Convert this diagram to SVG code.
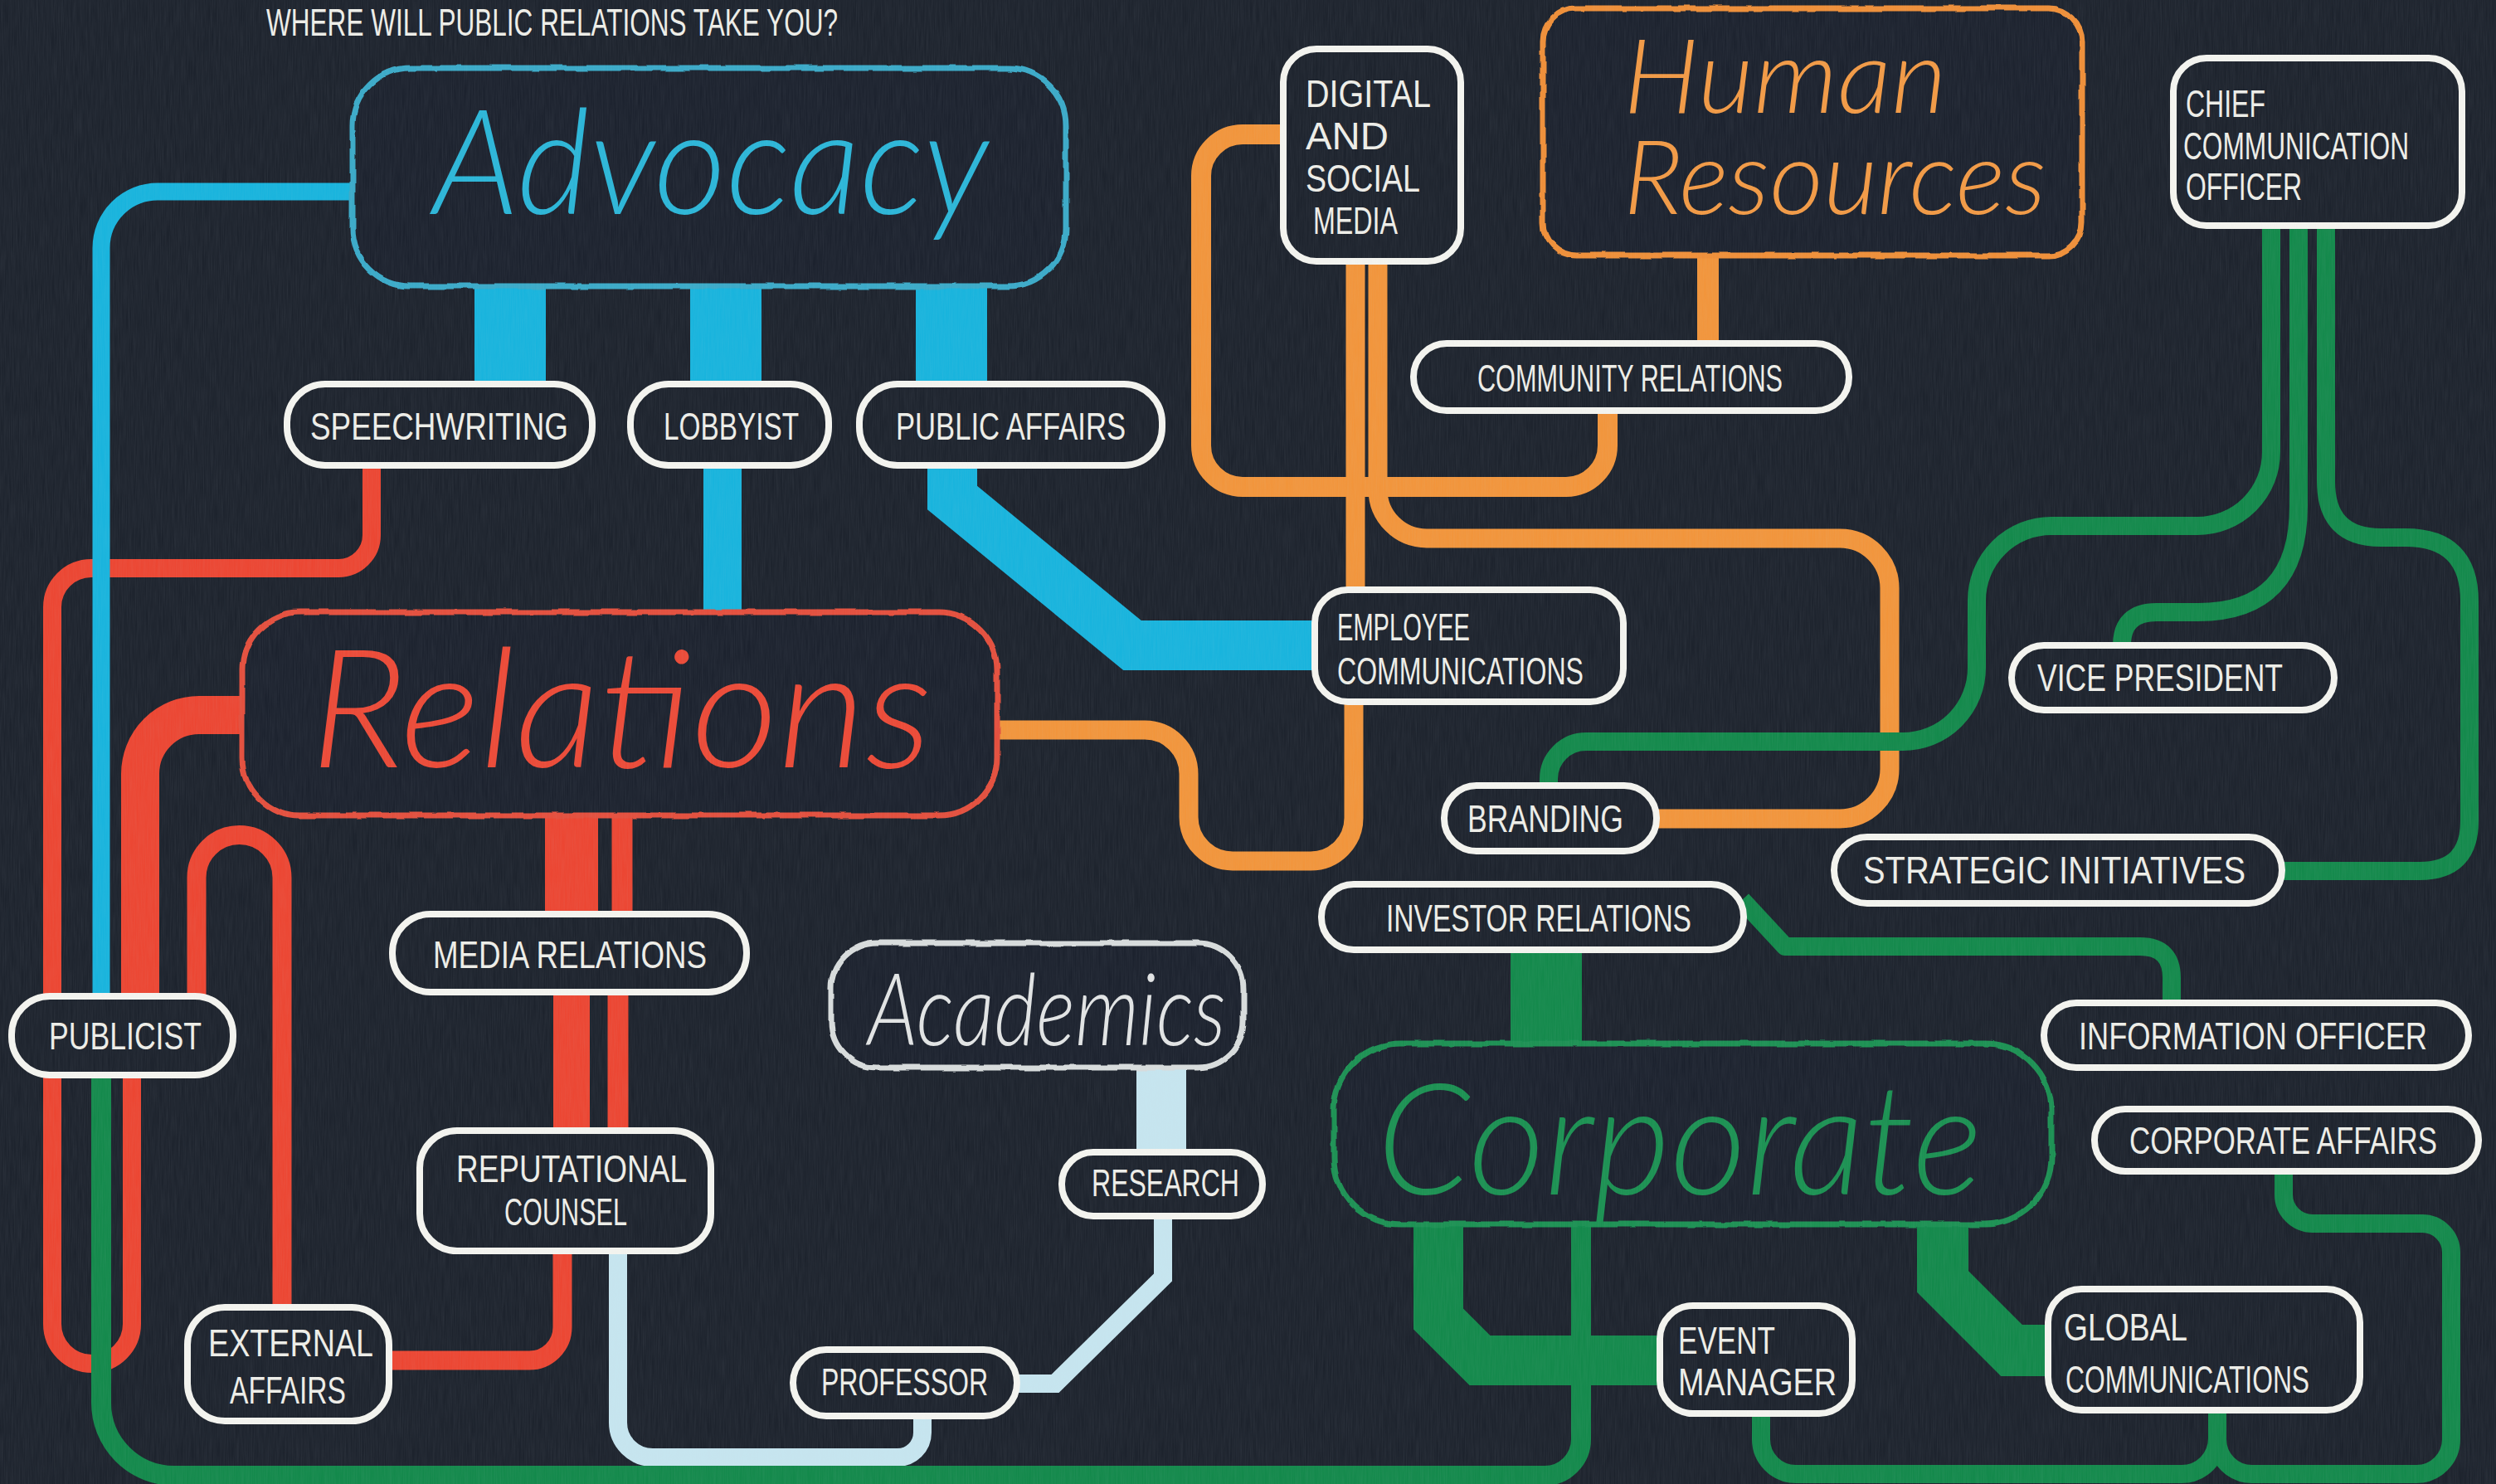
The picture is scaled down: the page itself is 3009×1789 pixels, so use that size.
<svg xmlns="http://www.w3.org/2000/svg" width="3009" height="1789" viewBox="0 0 3009 1789">
  <defs>
    <!-- chalkboard grain -->
    <filter id="grain" x="0" y="0" width="100%" height="100%">
      <feTurbulence type="fractalNoise" baseFrequency="0.9 0.03" numOctaves="2" seed="4" result="n"/>
      <feColorMatrix in="n" type="matrix" values="0 0 0 0 0.6  0 0 0 0 0.65  0 0 0 0 0.72  0 0 0 0.35 -0.08"/>
    </filter>
    <!-- wobbly hand-drawn chalk stroke -->
    <filter id="chalk" x="-5%" y="-5%" width="110%" height="110%">
      <feTurbulence type="fractalNoise" baseFrequency="0.035" numOctaves="2" seed="7" result="w"/>
      <feDisplacementMap in="SourceGraphic" in2="w" scale="5" xChannelSelector="R" yChannelSelector="G"/>
    </filter>
    <style>
      .bg { fill: #1d232d; }
      .ln { fill: none; stroke-linecap: butt; stroke-linejoin: round; }
      .cy { stroke: #18b4dd; }
      .rd { stroke: #ec4632; }
      .or { stroke: #f2953b; }
      .gr { stroke: #13894b; }
      .lb { stroke: #c6e5ef; }
      .miter { stroke-linejoin: miter; }
      .w22 { stroke-width: 22; }
      .lbl rect { fill: #1d232d; stroke: #f4f4ef; stroke-width: 8; }
      .lbl text, .title { font-family: "Liberation Sans", Arial, sans-serif; font-size: 46px; fill: #eeeee8; }
      .cat rect { fill: #1d232d; stroke-width: 7; }
      .cat text { font-family: Lato, "Open Sans", sans-serif; font-style: italic; font-weight: 300; }
    </style>
  </defs>

  <rect class="bg" x="0" y="0" width="3009" height="1789"/>

  <text class="title" x="321" y="43" font-size="40" textLength="689" lengthAdjust="spacingAndGlyphs">WHERE WILL PUBLIC RELATIONS TAKE YOU?</text>

  <g id="connectors">
    <!-- red -->
    <path class="ln rd w22" d="M448 565 V645 A40 40 0 0 1 408 685 H110 A47 47 0 0 0 63 732 V1596 A48 48 0 0 0 159 1596 V1297"/>
    <path class="ln rd" stroke-width="46" d="M300 862 H240 A71 71 0 0 0 169 933 V1201"/>
    <path class="ln rd" stroke-width="23" d="M237 1201 V1058 A51.5 51.5 0 0 1 340 1058 V1576"/>
    <path class="ln rd" stroke-width="64" d="M689 975 V1102"/>
    <path class="ln rd" stroke-width="44" d="M689 1196 V1363"/>
    <path class="ln rd" stroke-width="23" d="M678 1508 V1600 A40 40 0 0 1 638 1640 H469"/>
    <path class="ln rd" stroke-width="25" d="M750 975 V1102"/>
    <path class="ln rd" stroke-width="25" d="M745 1196 V1363"/>

    <!-- light blue -->
    <path class="ln lb w22" d="M745 1508 V1715 A42 42 0 0 0 787 1757 H1082 A30 30 0 0 0 1112 1727 V1707"/>
    <path class="ln lb" stroke-width="60" d="M1400 1284 V1389"/>
    <path class="ln lb w22 miter" d="M1402 1466 V1540 L1272 1668 H1226"/>

    <!-- orange -->
    <path class="ln or" stroke-width="23" d="M1205 880 H1380 A53 53 0 0 1 1433 933 V985 A53 53 0 0 0 1486 1038 H1580 A52 52 0 0 0 1632 986 V846"/>
    <path class="ln or" stroke-width="23" d="M1634 317 V711"/>
    <path class="ln or" stroke-width="24" d="M1547 162 H1498 A50 50 0 0 0 1448 212 V537 A50 50 0 0 0 1498 587 H1888 A50 50 0 0 0 1938 537 V499"/>
    <path class="ln or" stroke-width="23" d="M1661 317 V590 A59 59 0 0 0 1720 649 H2218 A60 60 0 0 1 2278 709 V927 A60 60 0 0 1 2218 987 H1997"/>
    <path class="ln or" stroke-width="26" d="M2059 306 V414"/>

    <!-- cyan -->
    <path class="ln cy" stroke-width="21" d="M425 231 H190 A68 68 0 0 0 122 299 V1201"/>
    <path class="ln cy" stroke-width="86" d="M615 340 V463 M875 340 V463 M1147 340 V463"/>
    <path class="ln cy" stroke-width="46" d="M871 564 V742"/>
    <path class="ln cy miter" stroke-width="60" d="M1148 564 V600 L1365 778 H1585"/>

    <!-- green -->
    <path class="ln gr w22" d="M2738 272 V545 A89 89 0 0 1 2649 634 H2473 A90 90 0 0 0 2383 724 V805 A89 89 0 0 1 2294 894 H1912 A45 45 0 0 0 1867 939 V947"/>
    <path class="ln gr w22" d="M2771 272 V610 Q2771 738 2650 738 H2600 Q2558 738 2558 778"/>
    <path class="ln gr w22" d="M2804 272 V580 Q2804 648 2870 648 H2900 Q2977 648 2977 725 V990 Q2977 1050 2917 1050 H2751"/>
    <path class="ln gr w22" d="M2100 1085 L2152 1141 H2580 Q2618 1141 2618 1179 V1209"/>
    <path class="ln gr" stroke-width="86" d="M1864 1146 V1264"/>
    <path class="ln gr miter" stroke-width="60" d="M1734 1470 V1590 L1784 1640 H2001"/>
    <path class="ln gr" stroke-width="24" d="M1906 1470 V1735 A44 44 0 0 1 1862 1779 H210 A88 88 0 0 1 122 1691 V1297"/>
    <path class="ln gr w22" d="M2123 1704 V1735 A42 42 0 0 0 2165 1777 H2630 A43 43 0 0 0 2673 1734 V1700"/>
    <path class="ln gr w22" d="M2753 1412 V1440 A35 35 0 0 0 2788 1475 H2920 A35 35 0 0 1 2955 1510 V1735 A42 42 0 0 1 2913 1777 H2715 A42 42 0 0 1 2673 1735"/>
    <path class="ln gr miter" stroke-width="62" d="M2342 1470 V1545 L2425 1628 H2469"/>
  </g>

  <!-- category boxes -->
  <g id="advocacy" class="cat">
    <rect x="425" y="82" width="860" height="263" rx="70" stroke="#3aaac8" filter="url(#chalk)"/>
    <text x="522" y="258" font-size="175" fill="#2cb6d8" textLength="670" lengthAdjust="spacingAndGlyphs">Advocacy</text>
  </g>
  <g id="human-resources" class="cat">
    <rect x="1860" y="10" width="650" height="298" rx="40" stroke="#ef8f39" filter="url(#chalk)"/>
    <text x="1957" y="136" font-size="125" fill="#f29a45" textLength="390" lengthAdjust="spacingAndGlyphs">Human</text>
    <text x="1957" y="258" font-size="125" fill="#f29a45" textLength="510" lengthAdjust="spacingAndGlyphs">Resources</text>
  </g>
  <g id="relations" class="cat">
    <rect x="292" y="738" width="910" height="245" rx="70" stroke="#e4503c" filter="url(#chalk)"/>
    <text x="374" y="925" font-size="200" fill="#ec4a37" textLength="750" lengthAdjust="spacingAndGlyphs">Relations</text>
  </g>
  <g id="academics" class="cat">
    <rect x="1002" y="1137" width="497" height="150" rx="55" stroke="#d8dcdc" stroke-width="5" filter="url(#chalk)"/>
    <text x="1046" y="1260" font-size="120" fill="#e2e4e4" textLength="432" lengthAdjust="spacingAndGlyphs">Academics</text>
  </g>
  <g id="corporate" class="cat">
    <rect x="1608" y="1258" width="865" height="218" rx="80" stroke="#1b9152" filter="url(#chalk)"/>
    <text x="1660" y="1440" font-size="185" fill="#1b9152" textLength="730" lengthAdjust="spacingAndGlyphs">Corporate</text>
  </g>

  <!-- role labels -->
  <g id="speechwriting" class="lbl"><rect x="346" y="463" width="368" height="98" rx="46"/><text x="374" y="530" textLength="311" lengthAdjust="spacingAndGlyphs">SPEECHWRITING</text></g>
  <g id="lobbyist" class="lbl"><rect x="760" y="463" width="239" height="98" rx="46"/><text x="800" y="530" textLength="163" lengthAdjust="spacingAndGlyphs">LOBBYIST</text></g>
  <g id="public-affairs" class="lbl"><rect x="1036" y="463" width="365" height="98" rx="46"/><text x="1080" y="530" textLength="277" lengthAdjust="spacingAndGlyphs">PUBLIC AFFAIRS</text></g>
  <g id="digital-social-media" class="lbl"><rect x="1547" y="59" width="214" height="256" rx="40"/>
    <text x="1574" y="129" font-size="50" textLength="151" lengthAdjust="spacingAndGlyphs">DIGITAL</text>
    <text x="1574" y="180" font-size="50" textLength="100" lengthAdjust="spacingAndGlyphs">AND</text>
    <text x="1574" y="231" font-size="50" textLength="138" lengthAdjust="spacingAndGlyphs">SOCIAL</text>
    <text x="1583" y="282" font-size="50" textLength="102" lengthAdjust="spacingAndGlyphs">MEDIA</text></g>
  <g id="community-relations" class="lbl"><rect x="1704" y="414" width="525" height="81" rx="40"/><text x="1781" y="472" textLength="368" lengthAdjust="spacingAndGlyphs">COMMUNITY RELATIONS</text></g>
  <g id="chief-communication-officer" class="lbl"><rect x="2620" y="70" width="348" height="202" rx="40"/>
    <text x="2635" y="141" font-size="44" textLength="96" lengthAdjust="spacingAndGlyphs">CHIEF</text>
    <text x="2632" y="192" font-size="44" textLength="272" lengthAdjust="spacingAndGlyphs">COMMUNICATION</text>
    <text x="2635" y="241" font-size="44" textLength="140" lengthAdjust="spacingAndGlyphs">OFFICER</text></g>
  <g id="employee-communications" class="lbl"><rect x="1585" y="711" width="372" height="135" rx="40"/>
    <text x="1612" y="772" font-size="44" textLength="160" lengthAdjust="spacingAndGlyphs">EMPLOYEE</text>
    <text x="1612" y="825" font-size="44" textLength="297" lengthAdjust="spacingAndGlyphs">COMMUNICATIONS</text></g>
  <g id="vice-president" class="lbl"><rect x="2425" y="778" width="389" height="78" rx="39"/><text x="2456" y="833" textLength="296" lengthAdjust="spacingAndGlyphs">VICE PRESIDENT</text></g>
  <g id="branding" class="lbl"><rect x="1741" y="947" width="256" height="79" rx="39"/><text x="1769" y="1003" textLength="188" lengthAdjust="spacingAndGlyphs">BRANDING</text></g>
  <g id="strategic-initiatives" class="lbl"><rect x="2211" y="1009" width="540" height="80" rx="40"/><text x="2246" y="1065" textLength="461" lengthAdjust="spacingAndGlyphs">STRATEGIC INITIATIVES</text></g>
  <g id="investor-relations" class="lbl"><rect x="1593" y="1066" width="509" height="79" rx="39"/><text x="1671" y="1123" textLength="368" lengthAdjust="spacingAndGlyphs">INVESTOR RELATIONS</text></g>
  <g id="information-officer" class="lbl"><rect x="2464" y="1209" width="512" height="78" rx="39"/><text x="2506" y="1265" textLength="420" lengthAdjust="spacingAndGlyphs">INFORMATION OFFICER</text></g>
  <g id="corporate-affairs" class="lbl"><rect x="2525" y="1337" width="463" height="75" rx="37"/><text x="2567" y="1391" font-size="44" textLength="371" lengthAdjust="spacingAndGlyphs">CORPORATE AFFAIRS</text></g>
  <g id="media-relations" class="lbl"><rect x="473" y="1102" width="427" height="94" rx="46"/><text x="522" y="1167" textLength="330" lengthAdjust="spacingAndGlyphs">MEDIA RELATIONS</text></g>
  <g id="publicist" class="lbl"><rect x="14" y="1201" width="267" height="95" rx="46"/><text x="59" y="1265" textLength="184" lengthAdjust="spacingAndGlyphs">PUBLICIST</text></g>
  <g id="reputational-counsel" class="lbl"><rect x="506" y="1363" width="351" height="145" rx="45"/>
    <text x="550" y="1425" font-size="44" textLength="278" lengthAdjust="spacingAndGlyphs">REPUTATIONAL</text>
    <text x="608" y="1477" font-size="44" textLength="148" lengthAdjust="spacingAndGlyphs">COUNSEL</text></g>
  <g id="research" class="lbl"><rect x="1280" y="1389" width="242" height="77" rx="38"/><text x="1316" y="1442" textLength="178" lengthAdjust="spacingAndGlyphs">RESEARCH</text></g>
  <g id="external-affairs" class="lbl"><rect x="226" y="1576" width="243" height="137" rx="45"/>
    <text x="251" y="1635" textLength="199" lengthAdjust="spacingAndGlyphs">EXTERNAL</text>
    <text x="277" y="1692" textLength="140" lengthAdjust="spacingAndGlyphs">AFFAIRS</text></g>
  <g id="professor" class="lbl"><rect x="956" y="1627" width="270" height="80" rx="40"/><text x="990" y="1682" textLength="201" lengthAdjust="spacingAndGlyphs">PROFESSOR</text></g>
  <g id="event-manager" class="lbl"><rect x="2001" y="1574" width="232" height="130" rx="40"/>
    <text x="2023" y="1632" font-size="42" textLength="117" lengthAdjust="spacingAndGlyphs">EVENT</text>
    <text x="2023" y="1682" font-size="42" textLength="191" lengthAdjust="spacingAndGlyphs">MANAGER</text></g>
  <g id="global-communications" class="lbl"><rect x="2469" y="1554" width="376" height="146" rx="40"/>
    <text x="2488" y="1616" textLength="149" lengthAdjust="spacingAndGlyphs">GLOBAL</text>
    <text x="2490" y="1679" textLength="294" lengthAdjust="spacingAndGlyphs">COMMUNICATIONS</text></g>

  <!-- chalk dust over the whole board -->
  <rect x="0" y="0" width="3009" height="1789" filter="url(#grain)" opacity="0.3" pointer-events="none"/>
</svg>
